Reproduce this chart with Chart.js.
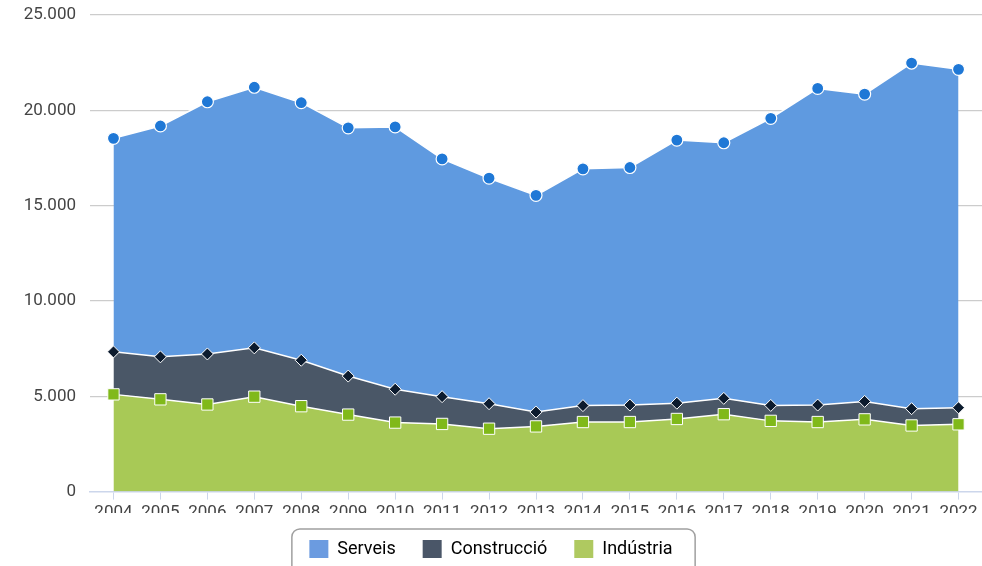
<!DOCTYPE html>
<html>
<head>
<meta charset="utf-8">
<script src="https://cdn.jsdelivr.net/npm/chart.js@4"></script>
<style>
  body { margin: 0; background: #fff; }
  #wrap { width: 982px; height: 566px; }
</style>
</head>
<body>
<div id="wrap"><canvas id="chart"></canvas></div>
<script>
// ocupació per sector (persones)
const years = ['2004', '2005', '2006', '2007', '2008', '2009', '2010', '2011', '2012', '2013',
               '2014', '2015', '2016', '2017', '2018', '2019', '2020', '2021', '2022'];
const industria = [5100, 4840, 4570, 4980, 4480, 4040, 3620, 3550, 3300, 3420,
                   3650, 3650, 3810, 4060, 3710, 3650, 3790, 3470, 3530];
const construccio = [2230, 2230, 2650, 2560, 2410, 2020, 1750, 1430, 1310, 750,
                     860, 890, 830, 830, 810, 890, 940, 880, 870];
const serveis = [11200, 12110, 13230, 13670, 13510, 13020, 13760, 12470, 11830, 11370,
                 12420, 12460, 13800, 13410, 15060, 16610, 16120, 18130, 17750];
const yTicks = [0, 5000, 10000, 15000, 20000, 25000];

function thousands(v) {
  return String(v).replace(/\B(?=(\d{3})+(?!\d))/g, '.');
}

// rounded frame around the legend items
const legendFrame = {
  id: 'legendFrame',
  afterDraw(chart) {
    const boxes = chart.legend.legendHitBoxes;
    if (!boxes || !boxes.length) return;
    let x1 = Infinity, x2 = -Infinity, y1 = Infinity;
    boxes.forEach(b => {
      x1 = Math.min(x1, b.left);
      x2 = Math.max(x2, b.left + b.width);
      y1 = Math.min(y1, b.top);
    });
    const ctx = chart.ctx;
    ctx.save();
    ctx.strokeStyle = '#a0a0a0';
    ctx.lineWidth = 1.5;
    ctx.beginPath();
    ctx.roundRect(x1 - 17.5, y1 - 11, (x2 - x1) + 40, 60, 8);
    ctx.stroke();
    ctx.restore();
  }
};

Chart.defaults.font.family = 'Roboto, sans-serif';

new Chart(document.getElementById('chart'), {
  type: 'line',
  data: {
    labels: years,
    datasets: [{
      label: 'Indústria',
      data: industria,
      fill: 'origin',
      backgroundColor: '#a8c956',
      borderColor: '#fff',
      borderWidth: 1.5,
      pointStyle: 'rect',
      pointRadius: 8,
      pointBackgroundColor: '#80b91a',
      pointBorderColor: '#fff',
      pointBorderWidth: 1,
      tension: 0
    }, {
      label: 'Construcció',
      data: construccio,
      fill: '-1',
      backgroundColor: '#4a5767',
      borderColor: '#fff',
      borderWidth: 1.5,
      pointStyle: 'rectRot',
      pointRadius: 6,
      pointBackgroundColor: '#0c1b2e',
      pointBorderColor: '#fff',
      pointBorderWidth: 1,
      tension: 0
    }, {
      label: 'Serveis',
      data: serveis,
      fill: '-1',
      backgroundColor: '#5f9ae0',
      borderColor: '#fff',
      borderWidth: 1.5,
      pointStyle: 'circle',
      pointRadius: 6,
      pointBackgroundColor: '#1f78d6',
      pointBorderColor: '#fff',
      pointBorderWidth: 1.2,
      tension: 0
    }]
  },
  options: {
    responsive: true,
    maintainAspectRatio: false,
    animation: false,
    layout: { autoPadding: false, padding: { top: 15, right: 0, left: 0, bottom: -2 } },
    plugins: {
      tooltip: { enabled: false },
      legend: {
        position: 'bottom',
        reverse: true,
        labels: {
          color: '#555',
          font: { size: 18 },
          boxWidth: 19,
          boxHeight: 18,
          padding: 27,
          generateLabels(chart) {
            return chart.data.datasets.map((ds, i) => ({
              text: ds.label,
              fillStyle: ['#afc960', '#4a5668', '#6b9be0'][i],
              strokeStyle: 'transparent',
              lineWidth: 0,
              datasetIndex: i,
              hidden: false
            }));
          }
        }
      }
    },
    scales: {
      x: {
        offset: true,
        z: 1,
        afterFit(scale) {
          scale.paddingLeft = 0;
          scale.paddingRight = 0;
          scale.height -= 13;
        },
        grid: {
          offset: false,
          drawOnChartArea: false,
          drawTicks: true,
          tickLength: 8,
          color: '#ccd6eb'
        },
        border: { display: true, color: '#ccd6eb', width: 1.5 },
        ticks: { color: '#444', font: { size: 17 }, padding: 3, maxRotation: 0, autoSkip: false }
      },
      y: {
        stacked: true,
        min: 0,
        max: 25000,
        z: 1,
        afterFit(scale) {
          scale.width = 90;
          scale.paddingTop = 0;
          scale.paddingBottom = 0;
        },
        afterBuildTicks(scale) { scale.ticks = yTicks.map(v => ({ value: v })); },
        grid: {
          drawTicks: false,
          color: ctx => ctx.tick && ctx.tick.value === 0 ? 'transparent' : 'rgba(0,0,0,0.2)',
          lineWidth: 1.2
        },
        border: { display: false },
        ticks: {
          color: '#444',
          font: { size: 17 },
          padding: 14,
          callback: v => thousands(v)
        }
      }
    }
  },
  plugins: [legendFrame]
});
</script>
</body>
</html>
